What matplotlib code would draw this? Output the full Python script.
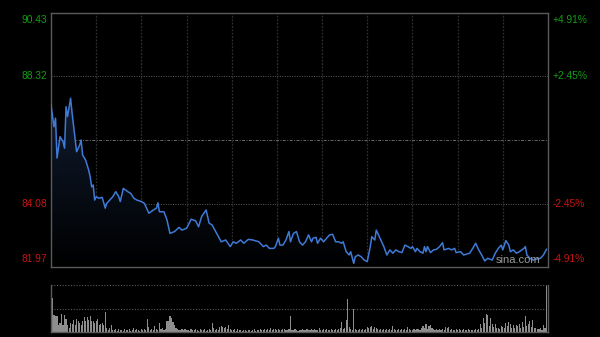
import numpy as np
import matplotlib
matplotlib.use("Agg")
import matplotlib.pyplot as plt
from matplotlib.colors import LinearSegmentedColormap

# ---------------------------------------------------------------
# Data
prev_close = 86.20
y_low, y_high = 81.97, 90.43
left_ticks = [90.43, 88.32, 84.08, 81.97]
left_labels = ["90.43", "88.32", "84.08", "81.97"]
right_labels = ["+4.91%", "+2.45%", "-2.45%", "-4.91%"]

minutes = [0, 2, 3, 4, 6, 8, 9, 10, 11, 13, 14, 17, 19, 20, 21, 23, 25, 26, 27, 28,
           29, 30, 32, 34, 36, 37, 39, 41, 43, 45, 46, 48, 51, 53, 55, 57, 60, 62, 65, 68,
           70, 71, 72, 75, 77, 79, 82, 85, 87, 90, 92, 93, 96, 98, 100, 103, 105, 107, 110, 113,
           116, 119, 121, 123, 126, 128, 131, 134, 138, 141, 143, 145, 148, 149, 151, 152, 154, 156, 158, 159,
           161, 163, 165, 167, 169, 171, 173, 174, 176, 177, 179, 181, 183, 185, 187, 189, 191, 193, 194, 196,
           198, 199, 201, 202, 204, 206, 208, 210, 212, 213, 215, 216, 218, 221, 223, 225, 227, 229, 231, 233,
           235, 237, 239, 240, 242, 243, 245, 247, 248, 249, 250, 252, 254, 256, 258, 260, 261, 264, 266, 268,
           269, 272, 274, 276, 278, 280, 282, 284, 286, 288, 290, 293, 295, 297, 299, 300, 302, 304, 305, 307,
           309, 311, 314, 315, 316, 318, 320, 322, 325, 327, 329]
prices = [87.37, 86.64, 86.93, 85.60, 86.31, 86.14, 85.93, 87.31, 86.98, 87.59, 87.10, 85.81, 86.03, 86.20, 85.70, 85.53, 85.20, 84.98, 84.64, 84.70,
          84.20, 84.31, 84.26, 84.29, 83.93, 84.09, 84.20, 84.31, 84.48, 84.31, 84.15, 84.59, 84.48, 84.42, 84.26, 84.20, 84.15, 84.09, 83.76, 83.87,
          83.93, 84.11, 83.81, 83.81, 83.54, 83.09, 83.15, 83.29, 83.20, 83.26, 83.45, 83.56, 83.51, 83.31, 83.65, 83.87, 83.43, 83.37, 83.09, 82.81,
          82.87, 82.65, 82.81, 82.76, 82.87, 82.76, 82.89, 82.87, 82.81, 82.65, 82.70, 82.59, 82.59, 82.65, 82.93, 82.70, 82.70, 82.87, 83.15, 82.81,
          83.09, 83.15, 82.81, 82.70, 82.81, 83.04, 82.81, 82.93, 82.96, 82.76, 82.93, 82.81, 82.93, 83.04, 83.06, 82.81, 82.81, 82.76, 82.81, 82.48,
          82.37, 82.48, 82.09, 82.31, 82.37, 82.31, 82.20, 82.15, 82.65, 82.98, 82.87, 83.20, 82.98, 82.65, 82.37, 82.54, 82.43, 82.54, 82.48, 82.45,
          82.70, 82.65, 82.59, 82.65, 82.48, 82.59, 82.48, 82.43, 82.65, 82.48, 82.65, 82.45, 82.54, 82.56, 82.65, 82.78, 82.54, 82.59, 82.54, 82.59,
          82.45, 82.48, 82.37, 82.40, 82.43, 82.59, 82.76, 82.54, 82.37, 82.17, 82.26, 82.20, 82.43, 82.59, 82.70, 82.54, 82.85, 82.70, 82.48, 82.54,
          82.43, 82.48, 82.59, 82.65, 82.37, 82.26, 82.20, 82.23, 82.26, 82.37, 82.56]

volume = [100, 73, 37, 33, 35, 15, 19, 39, 15, 37,
          28, 15, 8, 19, 17, 26, 14, 28, 24, 19,
          15, 24, 31, 23, 31, 26, 35, 24, 24, 19,
          23, 28, 15, 17, 19, 15, 42, 8, 5, 8,
          14, 5, 4, 6, 3, 7, 4, 5, 3, 6,
          5, 4, 7, 3, 5, 8, 4, 6, 5, 3,
          7, 4, 6, 5, 28, 10, 5, 6, 4, 12,
          6, 5, 19, 7, 8, 5, 6, 23, 24, 35,
          30, 21, 14, 8, 6, 5, 4, 7, 5, 6,
          4, 5, 3, 6, 5, 4, 7, 5, 3, 6,
          5, 4, 6, 3, 5, 7, 4, 19, 8, 5,
          6, 4, 11, 12, 11, 8, 10, 6, 15, 7,
          5, 4, 6, 3, 7, 5, 4, 3, 5, 4,
          3, 4, 5, 3, 4, 6, 3, 5, 4, 6,
          5, 4, 7, 5, 6, 4, 8, 5, 6, 7,
          5, 6, 4, 5, 7, 6, 5, 4, 6, 34,
          5, 4, 6, 5, 3, 5, 4, 6, 5, 4,
          6, 5, 4, 7, 5, 6, 4, 5, 8, 5,
          4, 6, 5, 7, 4, 5, 6, 4, 5, 7,
          5, 6, 8, 22, 6, 9, 25, 70, 10, 6,
          5, 48, 7, 5, 4, 6, 5, 7, 4, 6,
          11, 8, 10, 12, 7, 11, 9, 6, 5, 7,
          5, 6, 4, 7, 5, 6, 5, 13, 6, 5,
          4, 6, 5, 7, 4, 6, 5, 10, 6, 5,
          4, 6, 5, 7, 6, 5, 8, 13, 9, 18,
          7, 12, 15, 8, 6, 5, 7, 5, 6, 4,
          6, 5, 10, 8, 10, 5, 6, 4, 5, 7,
          5, 6, 4, 5, 7, 5, 4, 6, 5, 4,
          5, 4, 6, 5, 7, 18, 9, 30, 20, 38,
          36, 12, 29, 18, 10, 18, 9, 8, 7, 12,
          10, 8, 20, 12, 22, 17, 9, 15, 8, 15,
          12, 18, 9, 22, 10, 34, 12, 18, 24, 10,
          25, 9, 8, 7, 6, 8, 5, 15, 9, 98]

total_minutes = 330
# ---------------------------------------------------------------

green = "#149c14"
red = "#c81414"
frame = "#5a5a5a"
grid = "#2e2e2e"

plt.rcParams["font.family"] = ["Liberation Sans", "DejaVu Sans"]

fig = plt.figure(figsize=(6, 3.37), dpi=100, facecolor="black")
ax = fig.add_axes([0.085, 0.2077, 0.8283, 0.7537], facecolor="black")
axv = fig.add_axes([0.085, 0.0148, 0.8283, 0.1395], facecolor="black")

## Price panel
ax.set_xlim(0, total_minutes)
ax.set_ylim(y_low, y_high)
for m in range(30, total_minutes, 30):
    ax.axvline(m, color=grid, lw=0.9, ls=(0, (1.5, 1.2)), zorder=1)
for v in [88.32, 84.08]:
    ax.axhline(v, color="#5c5c5c", lw=0.7, ls=(0, (1, 1.5)), zorder=1)
ax.axhline(prev_close, color="#6a6a6a", lw=0.7, ls=(0, (3, 1.5, 1, 1.5)), zorder=1)

# gradient fill below the line
fill = ax.fill_between(minutes, prices, y_low, color="none", lw=0)
cmap = LinearSegmentedColormap.from_list("f", ["#000000", "#101c30"])
grad = np.linspace(0, 1, 256).reshape(-1, 1)
img = ax.imshow(grad, cmap=cmap, aspect="auto", origin="lower",
                extent=[0, total_minutes, y_low, max(prices)], zorder=2)
img.set_clip_path(fill.get_paths()[0], transform=ax.transData)
ax.plot(minutes, prices, color="#3f7ad6", lw=1.1, zorder=3)

ax.set_xticks([])
ax.set_yticks([])
for s in ax.spines.values():
    s.set_color(frame)
    s.set_linewidth(1.0)

# axis labels (top and bottom ones kept inside the frame)
offsets = [-5, 0, 0, 6]
for tick, lab, rlab, off in zip(left_ticks, left_labels, right_labels, offsets):
    c = green if tick > prev_close else red
    ax.annotate(lab, xy=(0, tick), xycoords=("axes fraction", "data"),
                xytext=(-3, off), textcoords="offset points",
                ha="right", va="center", color=c, fontsize=7.4)
    ax.annotate(rlab, xy=(1, tick), xycoords=("axes fraction", "data"),
                xytext=(3.5, off), textcoords="offset points",
                ha="left", va="center", color=c, fontsize=7.4)

ax.text(0.985, 0.008, "sina.com", transform=ax.transAxes, ha="right", va="bottom",
        color="#9a9a9a", fontsize=8, zorder=4)

## Volume panel
axv.set_xlim(0, total_minutes)
axv.set_ylim(0, 100)
axv.bar(np.arange(len(volume)), volume, width=0.75, color="#8e8e8e", lw=0, zorder=2)
axv.axhline(100, color="#5c5c5c", lw=0.8, ls=(0, (1, 1.5)), zorder=1)
axv.axhline(50, color="#5c5c5c", lw=0.8, ls=(0, (1, 1.5)), zorder=1)
axv.set_xticks([])
axv.set_yticks([])
axv.spines["top"].set_visible(False)
for k in ["left", "right", "bottom"]:
    axv.spines[k].set_color(frame)
    axv.spines[k].set_linewidth(1.0)

fig.savefig("out.png", dpi=100, facecolor="black")
